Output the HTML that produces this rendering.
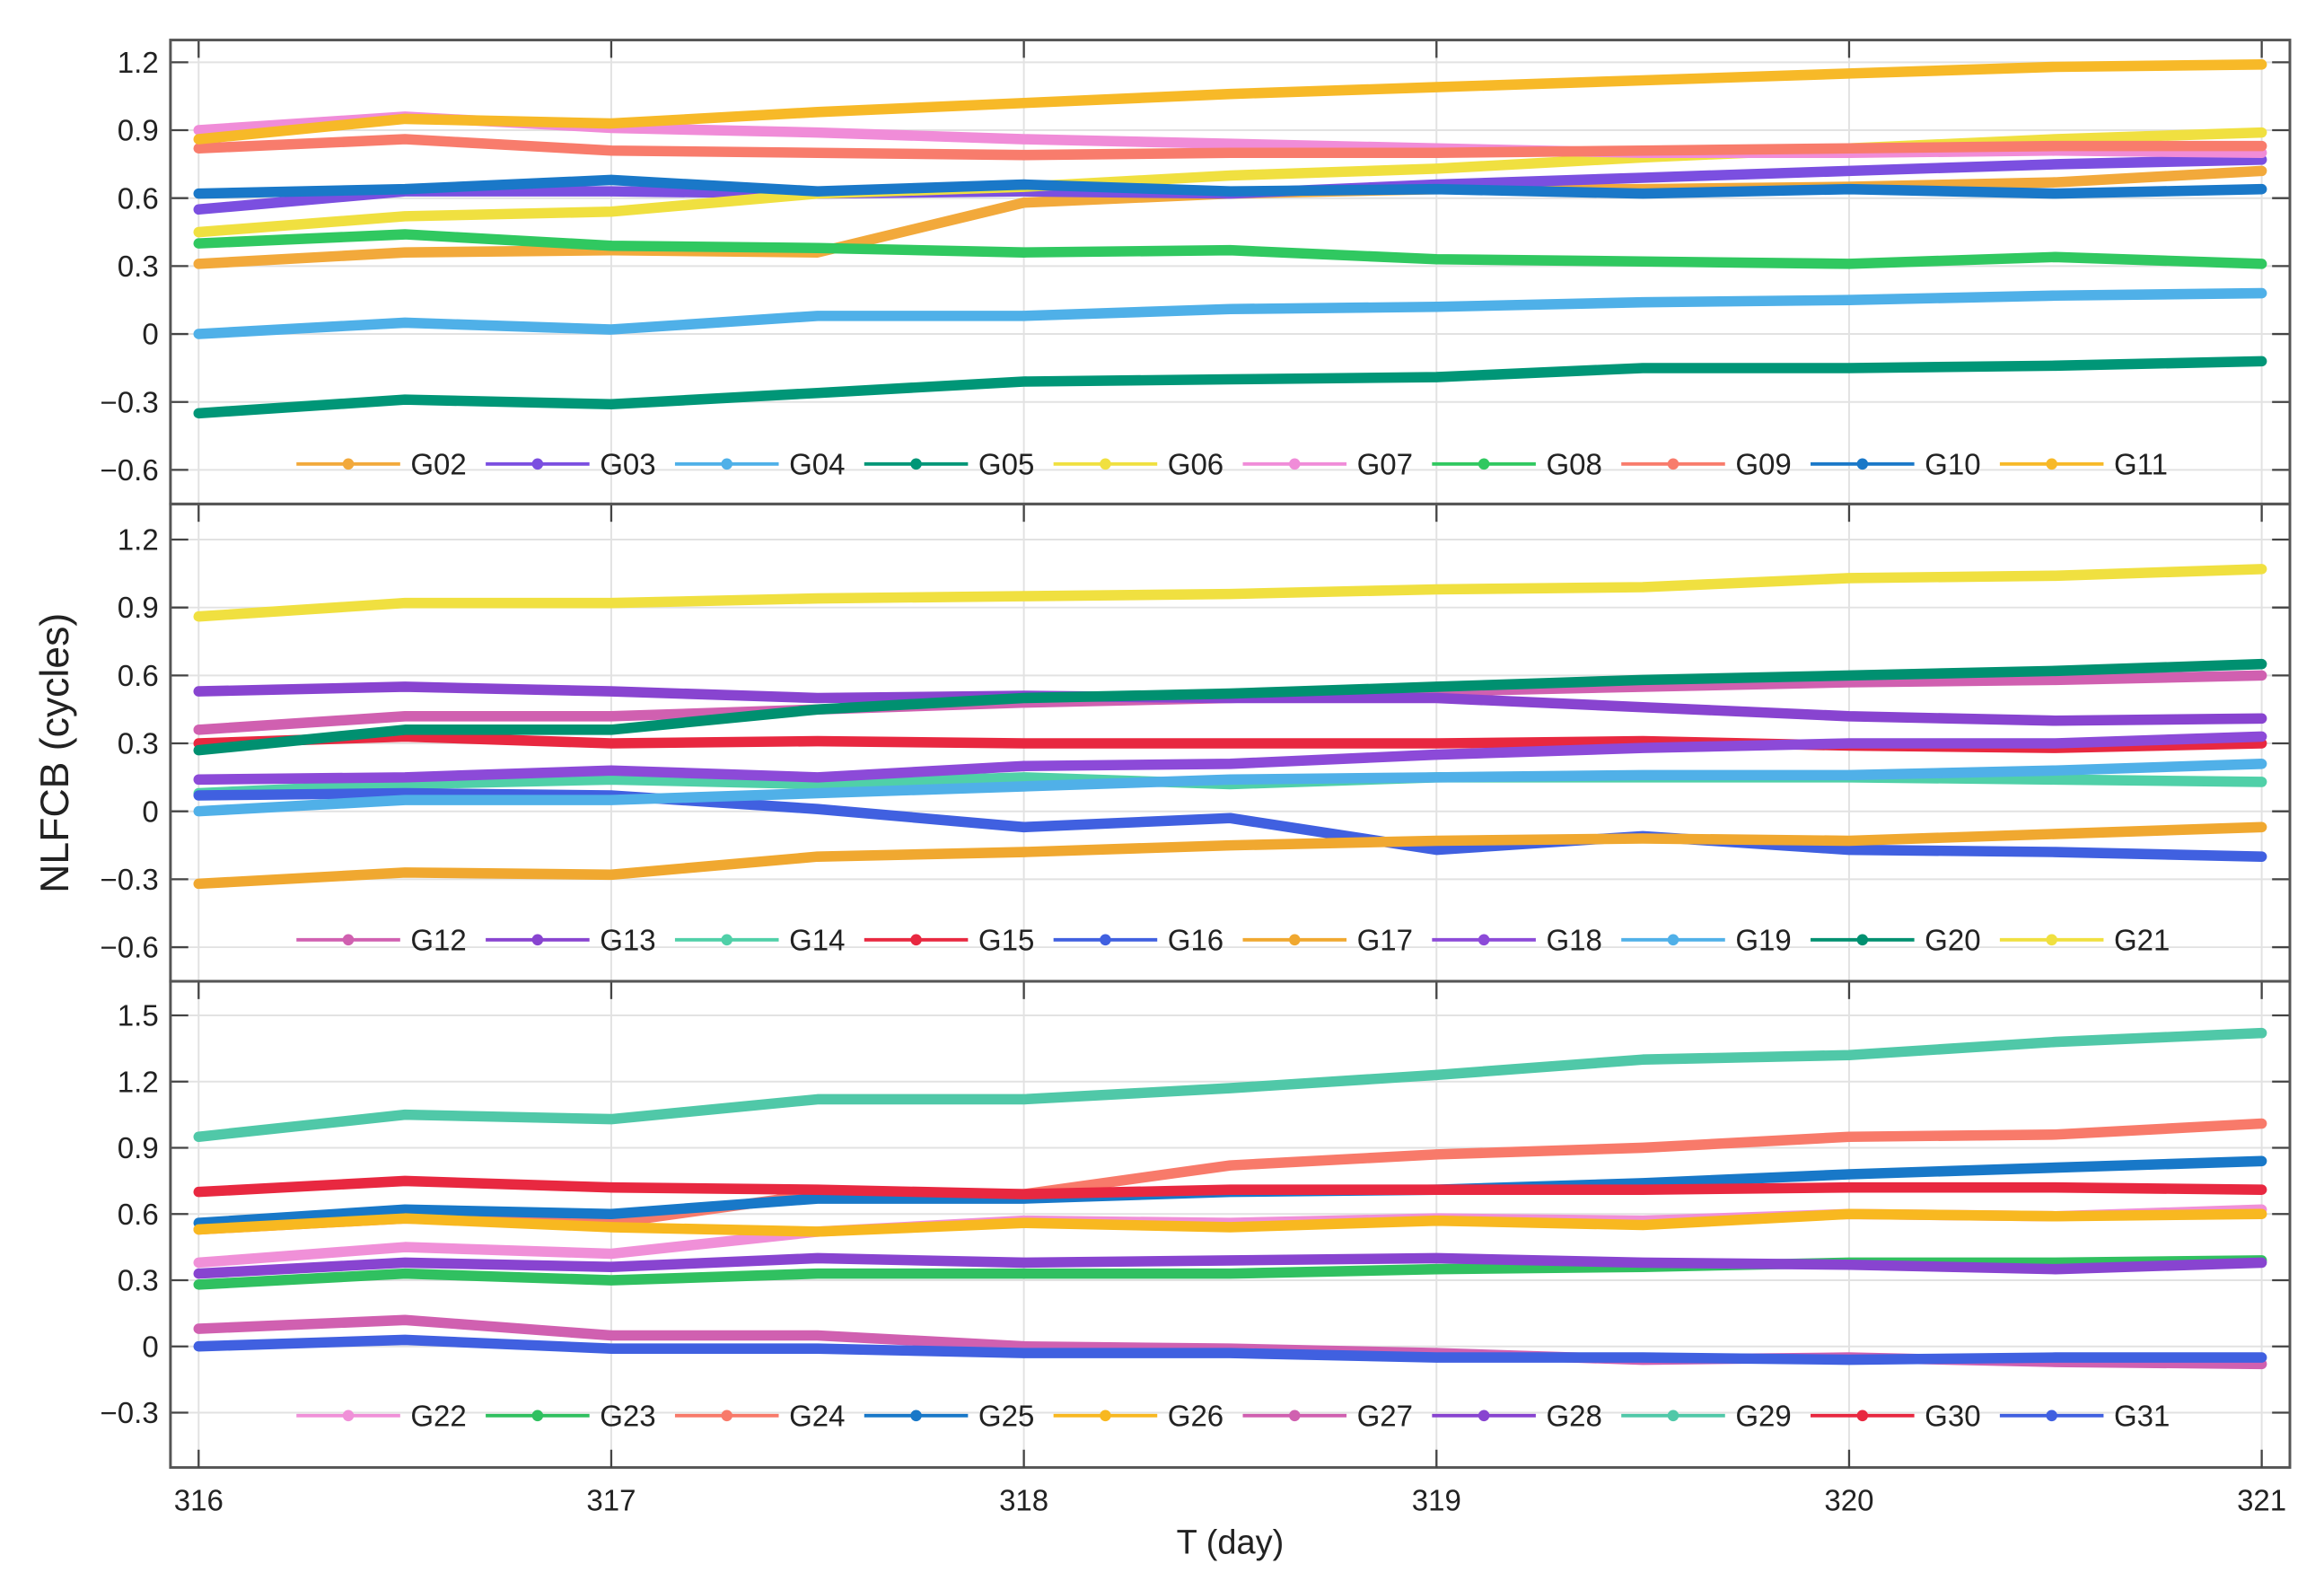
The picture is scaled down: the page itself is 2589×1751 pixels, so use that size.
<!DOCTYPE html>
<html><head><meta charset="utf-8"><style>
html,body{margin:0;padding:0;background:#fff}
svg{display:block}
text{font-family:"Liberation Sans",Arial,sans-serif;fill:#222}
</style></head><body>
<svg id="chart" width="2589" height="1751" viewBox="0 0 1568 1060.5" xmlns="http://www.w3.org/2000/svg"></svg>
<script>
const days = [316,316.5,317,317.5,318,318.5,319,319.5,320,320.5,321];
const xTicks = [316,317,318,319,320,321];
const yTicksA = [1.2,0.9,0.6,0.3,0,-0.3,-0.6];
const yTicksC = [1.5,1.2,0.9,0.6,0.3,0,-0.3];
const namesA = ["G02","G03","G04","G05","G06","G07","G08","G09","G10","G11"];
const namesB = ["G12","G13","G14","G15","G16","G17","G18","G19","G20","G21"];
const namesC = ["G22","G23","G24","G25","G26","G27","G28","G29","G30","G31"];
const colorsA = ["#f2a93b","#7b4fe0","#4fb0e8","#009677","#f0e040","#f08cd8","#30c860","#f87c6c","#1a78c8","#f7b928"];
const colorsB = ["#d060b0","#8844d0","#50d0a8","#e82840","#4060e0","#f0a830","#8c4ad8","#50b0e8","#009070","#f0e040"];
const colorsC = ["#f090d8","#30c060","#f87a6a","#1878c8","#f8b820","#d060b0","#8844d0","#50c8a8","#e82840","#4060e0"];
const G02=[0.31,0.36,0.37,0.36,0.58,0.62,0.64,0.64,0.65,0.67,0.72];
const G03=[0.55,0.63,0.63,0.62,0.63,0.62,0.66,0.69,0.72,0.75,0.77];
const G04=[0.0,0.05,0.02,0.08,0.08,0.11,0.12,0.14,0.15,0.17,0.18];
const G05=[-0.35,-0.29,-0.31,-0.26,-0.21,-0.20,-0.19,-0.15,-0.15,-0.14,-0.12];
const G06=[0.45,0.52,0.54,0.62,0.65,0.70,0.73,0.78,0.82,0.86,0.89];
const G07=[0.90,0.96,0.91,0.89,0.86,0.84,0.82,0.80,0.80,0.81,0.80];
const G08=[0.40,0.44,0.39,0.38,0.36,0.37,0.33,0.32,0.31,0.34,0.31];
const G09=[0.82,0.86,0.81,0.80,0.79,0.80,0.80,0.81,0.82,0.83,0.83];
const G10=[0.62,0.64,0.68,0.63,0.66,0.63,0.64,0.62,0.64,0.62,0.64];
const G11=[0.86,0.95,0.93,0.98,1.02,1.06,1.09,1.12,1.15,1.18,1.19];
const G12=[0.36,0.42,0.42,0.45,0.48,0.50,0.53,0.55,0.57,0.58,0.60];
const G13=[0.53,0.55,0.53,0.50,0.51,0.50,0.50,0.46,0.42,0.40,0.41];
const G14=[0.08,0.12,0.14,0.12,0.15,0.12,0.15,0.15,0.15,0.14,0.13];
const G15=[0.30,0.33,0.30,0.31,0.30,0.30,0.30,0.31,0.29,0.28,0.30];
const G16=[0.07,0.08,0.07,0.01,-0.07,-0.03,-0.17,-0.11,-0.17,-0.18,-0.20];
const G17=[-0.32,-0.27,-0.28,-0.20,-0.18,-0.15,-0.13,-0.12,-0.13,-0.10,-0.07];
const G18=[0.14,0.15,0.18,0.15,0.20,0.21,0.25,0.28,0.30,0.30,0.33];
const G19=[0.0,0.05,0.05,0.08,0.11,0.14,0.15,0.16,0.16,0.18,0.21];
const G20=[0.27,0.36,0.36,0.45,0.50,0.52,0.55,0.58,0.60,0.62,0.65];
const G21=[0.86,0.92,0.92,0.94,0.95,0.96,0.98,0.99,1.03,1.04,1.07];
const G22=[0.38,0.45,0.42,0.52,0.57,0.56,0.58,0.57,0.60,0.59,0.62];
const G23=[0.28,0.33,0.30,0.33,0.33,0.33,0.35,0.36,0.38,0.38,0.39];
const G24=[0.53,0.58,0.56,0.69,0.69,0.82,0.87,0.90,0.95,0.96,1.01];
const G25=[0.56,0.62,0.60,0.67,0.67,0.70,0.71,0.74,0.78,0.81,0.84];
const G26=[0.53,0.58,0.54,0.52,0.56,0.54,0.57,0.55,0.60,0.59,0.60];
const G27=[0.08,0.12,0.05,0.05,0.0,-0.01,-0.03,-0.06,-0.05,-0.07,-0.08];
const G28=[0.33,0.38,0.36,0.40,0.38,0.39,0.40,0.38,0.37,0.35,0.38];
const G29=[0.95,1.05,1.03,1.12,1.12,1.17,1.23,1.30,1.32,1.38,1.42];
const G30=[0.70,0.75,0.72,0.71,0.69,0.71,0.71,0.71,0.72,0.72,0.71];
const G31=[0.0,0.03,-0.01,-0.01,-0.03,-0.03,-0.05,-0.05,-0.06,-0.05,-0.05];

const NS="http://www.w3.org/2000/svg";
const svg=document.getElementById('chart');
function mk(tag,attrs,parent){const e=document.createElementNS(NS,tag);for(const k in attrs)e.setAttribute(k,attrs[k]);(parent||svg).appendChild(e);return e;}
const X0=134,X1=1526,FL=115,FR=1545;
function xs(d){return X0+(d-316)/5*(X1-X0);}

const panels=[
 {top:27,bot:340,vTop:1.2,yTop:42,vBot:-0.6,yBot:317,ticks:yTicksA,names:namesA,colors:colorsA,series:[G02,G03,G04,G05,G06,G07,G08,G09,G10,G11],legY:313,pname:'panel-g02-g11'},
 {top:340,bot:662,vTop:1.2,yTop:364,vBot:-0.6,yBot:639,ticks:yTicksA,names:namesB,colors:colorsB,series:[G12,G13,G14,G15,G16,G17,G18,G19,G20,G21],legY:634,pname:'panel-g12-g21'},
 {top:662,bot:990,vTop:1.5,yTop:685,vBot:-0.3,yBot:953,ticks:yTicksC,names:namesC,colors:colorsC,series:[G22,G23,G24,G25,G26,G27,G28,G29,G30,G31],legY:955,pname:'panel-g22-g31'}
];
panels.forEach((p,pi)=>{
 const g=mk('g',{});
 
 
 const ys=v=>p.yTop+(p.vTop-v)/(p.vTop-p.vBot)*(p.yBot-p.yTop);
 xTicks.forEach(t=>{const l=mk('line',{x1:xs(t),x2:xs(t),y1:p.top,y2:p.bot,stroke:'#e2e2e2','stroke-width':1.2},g);
  
  const tk=mk('line',{x1:xs(t),x2:xs(t),y1:p.top,y2:p.top+12,stroke:'#444','stroke-width':1.4},g);
  });
 p.ticks.forEach(v=>{const y=ys(v);
  const l=mk('line',{x1:FL,x2:FR,y1:y,y2:y,stroke:'#e2e2e2','stroke-width':1.2},g);
  
  const tk=mk('line',{x1:FL,x2:FL+12,y1:y,y2:y,stroke:'#444','stroke-width':1.4},g);
  
  const tk2=mk('line',{x1:FR-12,x2:FR,y1:y,y2:y,stroke:'#444','stroke-width':1.4},g);
  
  const tx=mk('text',{x:FL-8,y:y+7,'text-anchor':'end','font-size':20},g);
  
  tx.textContent=v===0?'0':(v<0?'\u2212'+Math.abs(v).toFixed(1):v.toFixed(1));});
 p.series.forEach((s,i)=>{
  const d=s.map((v,j)=>(j?'L':'M')+xs(days[j]).toFixed(1)+','+ys(v).toFixed(1)).join(' ');
  const path=mk('path',{d:d,fill:'none',stroke:p.colors[i],'stroke-width':7,'stroke-linejoin':'round','stroke-linecap':'round'},g);
  
  
 });
 p.names.forEach((n,i)=>{
  const lx=200+i*127.7;
  const lg=mk('g',{},g);
  
  
  mk('line',{x1:lx,x2:lx+70,y1:p.legY,y2:p.legY,stroke:p.colors[i],'stroke-width':2.4},lg);
  mk('circle',{cx:lx+35,cy:p.legY,r:3.8,fill:p.colors[i]},lg);
  const t=mk('text',{x:lx+77,y:p.legY+7,'font-size':20},lg);
  t.textContent=n;
 });
 const fr=mk('rect',{x:FL,y:p.top,width:FR-FL,height:p.bot-p.top,fill:'none',stroke:'#555','stroke-width':1.8},g);
 
});
xTicks.forEach(t=>{
 const tk=mk('line',{x1:xs(t),x2:xs(t),y1:978,y2:990,stroke:'#444','stroke-width':1.4});
 
 const tx=mk('text',{x:xs(t),y:1019,'text-anchor':'middle','font-size':20});
 
 tx.textContent=t;});
const xt=mk('text',{x:830,y:1048,'text-anchor':'middle','font-size':23});

xt.textContent='T (day)';
const yt=mk('text',{x:0,y:0,'text-anchor':'middle','font-size':27,transform:'translate(46,508) rotate(-90)'});

yt.textContent='NLFCB (cycles)';
</script>
</body></html>
